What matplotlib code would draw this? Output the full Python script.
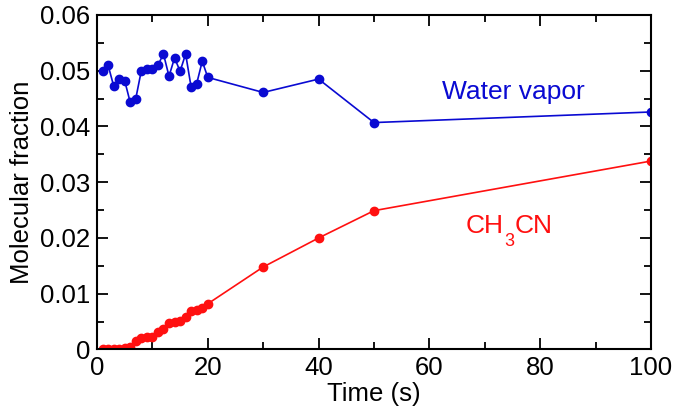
import matplotlib
matplotlib.use("Agg")
import matplotlib.pyplot as plt
from matplotlib.ticker import MultipleLocator, FuncFormatter
from matplotlib.transforms import offset_copy

time_s = [1, 2, 3, 4, 5, 6, 7, 8, 9, 10, 11, 12, 13, 14, 15, 16, 17, 18, 19, 20, 30, 40, 50, 100]
water_vapor = [0.0500, 0.0510, 0.0473, 0.0486, 0.0482, 0.0443, 0.0450, 0.0500, 0.0503, 0.0503,
               0.0510, 0.0530, 0.0490, 0.0523, 0.0499, 0.0530, 0.0470, 0.0477, 0.0517, 0.0488,
               0.0461, 0.0485, 0.0407, 0.0426]
ch3cn = [0.0000, 0.0000, 0.0000, 0.0001, 0.0002, 0.0005, 0.0016, 0.0020, 0.0022, 0.0022,
         0.0032, 0.0036, 0.0047, 0.0049, 0.0052, 0.0059, 0.0069, 0.0070, 0.0075, 0.0082,
         0.0148, 0.0200, 0.0249, 0.0338]

plt.rcParams['font.family'] = ['Liberation Sans', 'DejaVu Sans']

fig = plt.figure(figsize=(6.75, 4.12), dpi=100)
ax = fig.add_axes([0.1437, 0.1517, 0.8207, 0.812])

blue = '#0a0ad2'
red = '#ff1010'
ax.plot(time_s, water_vapor, '-o', color=blue, lw=1.2, ms=6)
ax.plot(time_s, ch3cn, '-o', color=red, lw=1.2, ms=6)

ax.set_xlim(0, 100)
ax.set_ylim(0, 0.06)
ax.xaxis.set_major_locator(MultipleLocator(20))
ax.xaxis.set_minor_locator(MultipleLocator(10))
ax.yaxis.set_major_locator(MultipleLocator(0.01))
ax.yaxis.set_minor_locator(MultipleLocator(0.005))

def yfmt(v, pos):
    if abs(v) < 1e-9:
        return '0'
    return f'{v:.2f}'
ax.yaxis.set_major_formatter(FuncFormatter(yfmt))

ax.tick_params(which='both', direction='in', top=True, right=True, labelsize=18.5, width=1.3)
ax.tick_params(which='major', length=8, pad=5)
ax.tick_params(which='minor', length=5)
for s in ax.spines.values():
    s.set_linewidth(1.5)

ax.set_xlabel('Time (s)', fontsize=18.5, labelpad=1)
ax.set_ylabel('Molecular fraction', fontsize=18.5, labelpad=4)

ax.text(75.2, 0.0462, 'Water vapor', color=blue, fontsize=19, ha='center', va='center')

# CH3CN label with a low subscript, built from three pieces
fs = 19
t1 = ax.text(66.5, 0.0222, 'CH', color=red, fontsize=fs, ha='left', va='center')
fig.canvas.draw()
r = fig.canvas.get_renderer()
bb = t1.get_window_extent(r)
w_pts = bb.width * 72 / fig.dpi
t2 = ax.text(66.5, 0.0222, '3', color=red, fontsize=fs * 0.68, ha='left', va='top',
             transform=offset_copy(ax.transData, fig=fig, x=w_pts + 0.3, y=-5, units='points'))
bb2 = t2.get_window_extent(r)
w2 = bb2.width * 72 / fig.dpi
ax.text(66.5, 0.0222, 'CN', color=red, fontsize=fs, ha='left', va='center',
        transform=offset_copy(ax.transData, fig=fig, x=w_pts + w2 + 0.6, y=0, units='points'))

fig.savefig('out.png', dpi=100)
